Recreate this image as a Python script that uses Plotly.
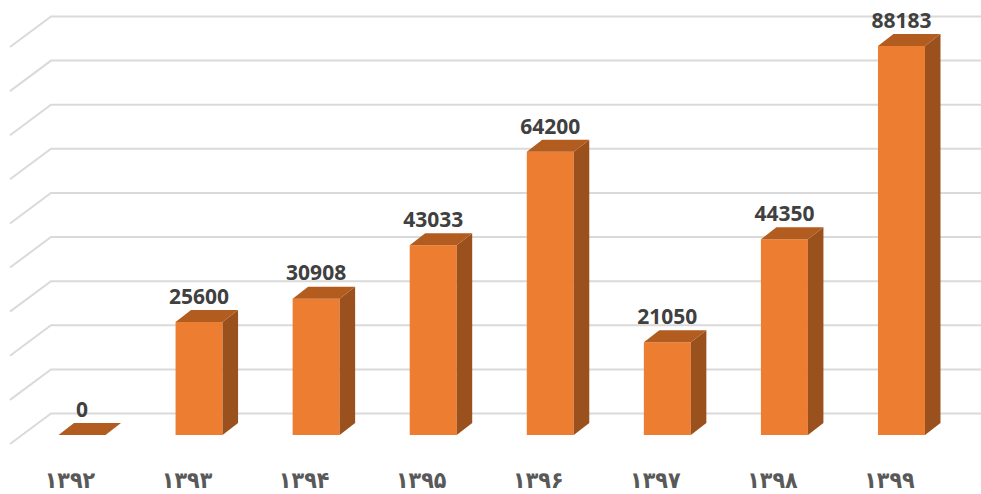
import plotly.graph_objects as go

years = ["۱۳۹۲", "۱۳۹۳", "۱۳۹۴", "۱۳۹۵", "۱۳۹۶", "۱۳۹۷", "۱۳۹۸", "۱۳۹۹"]
values = [0, 25600, 30908, 43033, 64200, 21050, 44350, 88183]
grid_values = [0, 10000, 20000, 30000, 40000, 50000, 60000, 70000, 80000, 90000]

W, H = 981, 494
PX_X = 117.07          # pixels per category
PX_Y = 0.0044113       # pixels per value unit
X0_PX, Y0_PX = 82, 435 # pixel position of first category, value zero
xr = [-X0_PX / PX_X, (W - X0_PX) / PX_X]
yr = [(Y0_PX - H) / PX_Y, Y0_PX / PX_Y]

BAR_W = 47 / PX_X
DX, DY = 15.5 / PX_X, 12 / PX_Y          # bar depth
FRONT_X, FRONT_Y = -72 / PX_X, 9 / PX_Y   # left end of the oblique grid segment
BACK_X, BACK_Y = -31 / PX_X, 21.5 / PX_Y  # where the back wall starts
LABEL_UP = 23.5 / PX_Y
TICK_SHIFT = -12 / PX_X
TICK_DOWN = 47 / PX_Y

ORANGE, SIDE, TOP = "#ED7D31", "#9A511E", "#B25C20"
GRID = "#DADADA"

fig = go.Figure()

# Grid on the primary (lower) axes
gx, gy = [], []
for g in grid_values:
    gx += [FRONT_X, BACK_X, xr[1], None]
    gy += [g - FRONT_Y, g + BACK_Y, g + BACK_Y, None]
fig.add_trace(go.Scatter(x=gx, y=gy, mode="lines", line=dict(color=GRID, width=2),
                         hoverinfo="skip", showlegend=False))

# Category labels
fig.add_trace(go.Scatter(x=[i + TICK_SHIFT for i in range(len(years))], y=[-TICK_DOWN] * len(years),
                         text=years, mode="text", textposition="middle center",
                         textfont=dict(family="DejaVu Sans Condensed", size=23, color="#595959", weight="bold"),
                         hoverinfo="skip", showlegend=False))

# Front faces
fig.add_trace(go.Bar(x=list(range(len(values))), y=values, width=BAR_W,
                     marker=dict(color=ORANGE, line=dict(width=0)),
                     xaxis="x2", yaxis="y2", showlegend=False))

# Side and top faces
for i, v in enumerate(values):
    l, r = i - BAR_W / 2, i + BAR_W / 2
    if v > 0:
        fig.add_trace(go.Scatter(x=[r, r + DX, r + DX, r, r], y=[0, DY, v + DY, v, 0],
                                 mode="lines", fill="toself", fillcolor=SIDE, line=dict(width=0),
                                 xaxis="x2", yaxis="y2", hoverinfo="skip", showlegend=False))
    fig.add_trace(go.Scatter(x=[l, r, r + DX, l + DX, l], y=[v, v, v + DY, v + DY, v],
                             mode="lines", fill="toself", fillcolor=TOP, line=dict(width=0),
                             xaxis="x2", yaxis="y2", hoverinfo="skip", showlegend=False))

# Data labels
fig.add_trace(go.Scatter(x=list(range(len(values))), y=[v + LABEL_UP for v in values],
                         text=[str(v) for v in values], mode="text", textposition="middle center",
                         textfont=dict(family="Open Sans", size=21, color="#404040", weight="bold"),
                         xaxis="x2", yaxis="y2", hoverinfo="skip", showlegend=False))

fig.update_layout(
    width=W, height=H, autosize=False,
    margin=dict(l=0, r=0, t=0, b=0, pad=0),
    paper_bgcolor="white", plot_bgcolor="white",
    showlegend=False,
    xaxis=dict(range=xr, visible=False),
    yaxis=dict(range=yr, visible=False),
    xaxis2=dict(range=xr, overlaying="x", visible=False),
    yaxis2=dict(range=yr, overlaying="y", visible=False),
)

fig.write_html("out.html", config={"displayModeBar": False},
               post_script="document.body.style.margin='0';document.body.style.overflow='hidden';")
